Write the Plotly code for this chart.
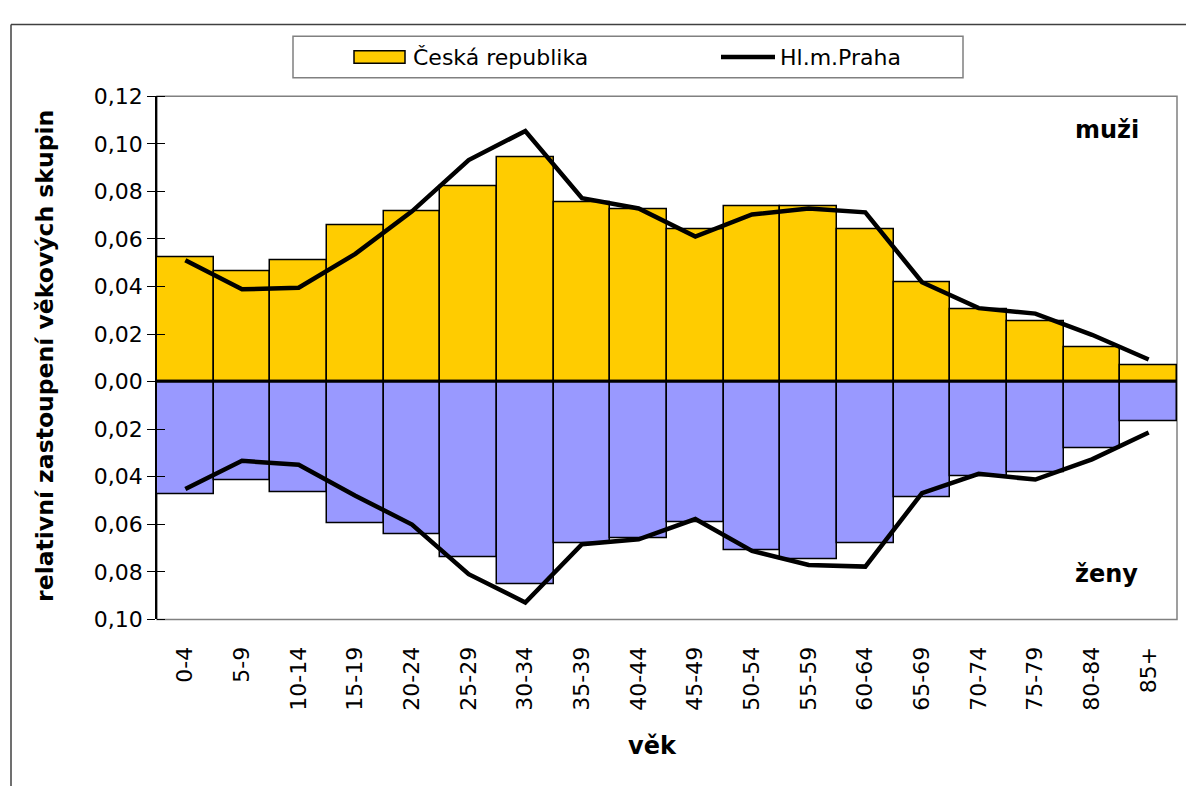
import plotly.graph_objects as go

categories = ["0-4", "5-9", "10-14", "15-19", "20-24", "25-29", "30-34", "35-39", "40-44",
              "45-49", "50-54", "55-59", "60-64", "65-69", "70-74", "75-79", "80-84", "85+"]

muzi_cr = [0.0524, 0.0465, 0.0510, 0.0656, 0.0716, 0.0822, 0.0944, 0.0754, 0.0724,
           0.0639, 0.0739, 0.0739, 0.0639, 0.0419, 0.0305, 0.0252, 0.0144, 0.0067]
zeny_cr = [0.0473, 0.0414, 0.0465, 0.0595, 0.0641, 0.0740, 0.0854, 0.0679, 0.0657,
           0.0593, 0.0709, 0.0746, 0.0679, 0.0487, 0.0397, 0.0382, 0.0282, 0.0167]
muzi_praha = [0.0510, 0.0388, 0.0395, 0.0537, 0.0716, 0.0932, 0.1054, 0.0771, 0.0728,
              0.0610, 0.0703, 0.0728, 0.0712, 0.0418, 0.0309, 0.0286, 0.0197, 0.0093]
zeny_praha = [0.0452, 0.0333, 0.0350, 0.0480, 0.0601, 0.0810, 0.0929, 0.0684, 0.0663,
              0.0578, 0.0712, 0.0771, 0.0778, 0.0469, 0.0388, 0.0412, 0.0327, 0.0214]

tick_vals = [-0.10, -0.08, -0.06, -0.04, -0.02, 0.0, 0.02, 0.04, 0.06, 0.08, 0.10, 0.12]
tick_text = ["0,10", "0,08", "0,06", "0,04", "0,02", "0,00", "0,02", "0,04", "0,06", "0,08", "0,10", "0,12"]

W, H = 1186, 799
FONT = "DejaVu Sans"
YELLOW = "#FFCC00"
LILAC = "#9999FF"


def px(x):
    return x / W


def py(y):
    return 1 - y / H


fig = go.Figure()

fig.add_trace(go.Bar(x=categories, y=muzi_cr, name="Česká republika",
                     marker=dict(color=YELLOW, line=dict(color="black", width=1.5)),
                     width=1.0, showlegend=False))
fig.add_trace(go.Bar(x=categories, y=[-v for v in zeny_cr], name="Česká republika",
                     marker=dict(color=LILAC, line=dict(color="black", width=1.5)),
                     width=1.0, showlegend=False))
fig.add_trace(go.Scatter(x=categories, y=muzi_praha, name="Hl.m.Praha", mode="lines",
                         line=dict(color="black", width=4.5), showlegend=False))
fig.add_trace(go.Scatter(x=categories, y=[-v for v in zeny_praha], name="Hl.m.Praha", mode="lines",
                         line=dict(color="black", width=4.5), showlegend=False))

fig.update_layout(
    width=W, height=H,
    margin=dict(l=0, r=0, t=0, b=0),
    paper_bgcolor="white", plot_bgcolor="white",
    barmode="relative", bargap=0,
    font=dict(family=FONT, size=22, color="black"),
    xaxis=dict(domain=[px(157), px(1177)], range=[-0.5, 17.5], type="category",
               tickangle=-90, ticks="", showgrid=False, showline=False, zeroline=False,
               ticklabelstandoff=22, tickfont=dict(size=22)),
    yaxis=dict(domain=[py(627), py(87)], range=[-0.10, 0.12], tickvals=tick_vals,
               ticktext=tick_text, ticks="outside", ticklen=8, tickcolor="black",
               tickwidth=1.2, showgrid=False, showline=True, linecolor="black",
               linewidth=1.5, zeroline=False, tickfont=dict(size=22),
               minor=dict(tickvals=[v + 1e-7 for v in tick_vals], ticks="inside",
                          ticklen=8, tickcolor="black", tickwidth=1.2)),
)

# plot area border (grey) and zero axis
fig.add_shape(type="rect", xref="x domain", yref="y domain", x0=0, x1=1, y0=0, y1=1,
              line=dict(color="#808080", width=1.5), layer="below")
fig.add_shape(type="line", xref="x domain", yref="y", x0=0, x1=1, y0=0, y1=0,
              line=dict(color="black", width=2.5), layer="above")

# outer chart frame (only top and left edges are inside the picture)
fig.add_shape(type="line", xref="paper", yref="paper", x0=px(11), x1=1, y0=py(13), y1=py(13),
              line=dict(color="#404040", width=1.5), layer="below")
fig.add_shape(type="line", xref="paper", yref="paper", x0=px(11), x1=px(11), y0=0, y1=py(13),
              line=dict(color="#404040", width=1.5), layer="below")

# legend (drawn)
fig.add_shape(type="rect", xref="paper", yref="paper", x0=px(293), x1=px(963), y0=py(68), y1=py(25),
              line=dict(color="#808080", width=1.5), fillcolor="white", layer="below")
fig.add_shape(type="rect", xref="paper", yref="paper", x0=px(354), x1=px(405), y0=py(53), y1=py(40),
              line=dict(color="black", width=1.5), fillcolor=YELLOW)
fig.add_shape(type="line", xref="paper", yref="paper", x0=px(721), x1=px(775), y0=py(46.5), y1=py(46.5),
              line=dict(color="black", width=4.5))
fig.add_annotation(text="Česká republika", xref="paper", yref="paper", x=px(411), y=py(47),
                   xanchor="left", yanchor="middle", showarrow=False,
                   font=dict(family=FONT, size=22, color="black"))
fig.add_annotation(text="Hl.m.Praha", xref="paper", yref="paper", x=px(778), y=py(47),
                   xanchor="left", yanchor="middle", showarrow=False,
                   font=dict(family=FONT, size=22, color="black"))

# titles and labels
fig.add_annotation(text="<b>relativní zastoupení věkových skupin</b>", xref="paper", yref="paper",
                   x=px(45), y=py(355), textangle=-90, showarrow=False,
                   xanchor="center", yanchor="middle", font=dict(family=FONT, size=23.5))
fig.add_annotation(text="<b>věk</b>", xref="paper", yref="paper", x=px(652), y=py(758),
                   showarrow=False, xanchor="center", yanchor="middle", font=dict(family=FONT, size=24))
fig.add_annotation(text="<b>muži</b>", xref="paper", yref="paper", x=px(1107), y=py(122),
                   showarrow=False, xanchor="center", yanchor="middle", font=dict(family=FONT, size=24))
fig.add_annotation(text="<b>ženy</b>", xref="paper", yref="paper", x=px(1106), y=py(580),
                   showarrow=False, xanchor="center", yanchor="middle", font=dict(family=FONT, size=24))

fig.write_html("out.html", config={"displayModeBar": False},
               post_script="document.body.style.margin='0';document.body.style.overflow='hidden';")
